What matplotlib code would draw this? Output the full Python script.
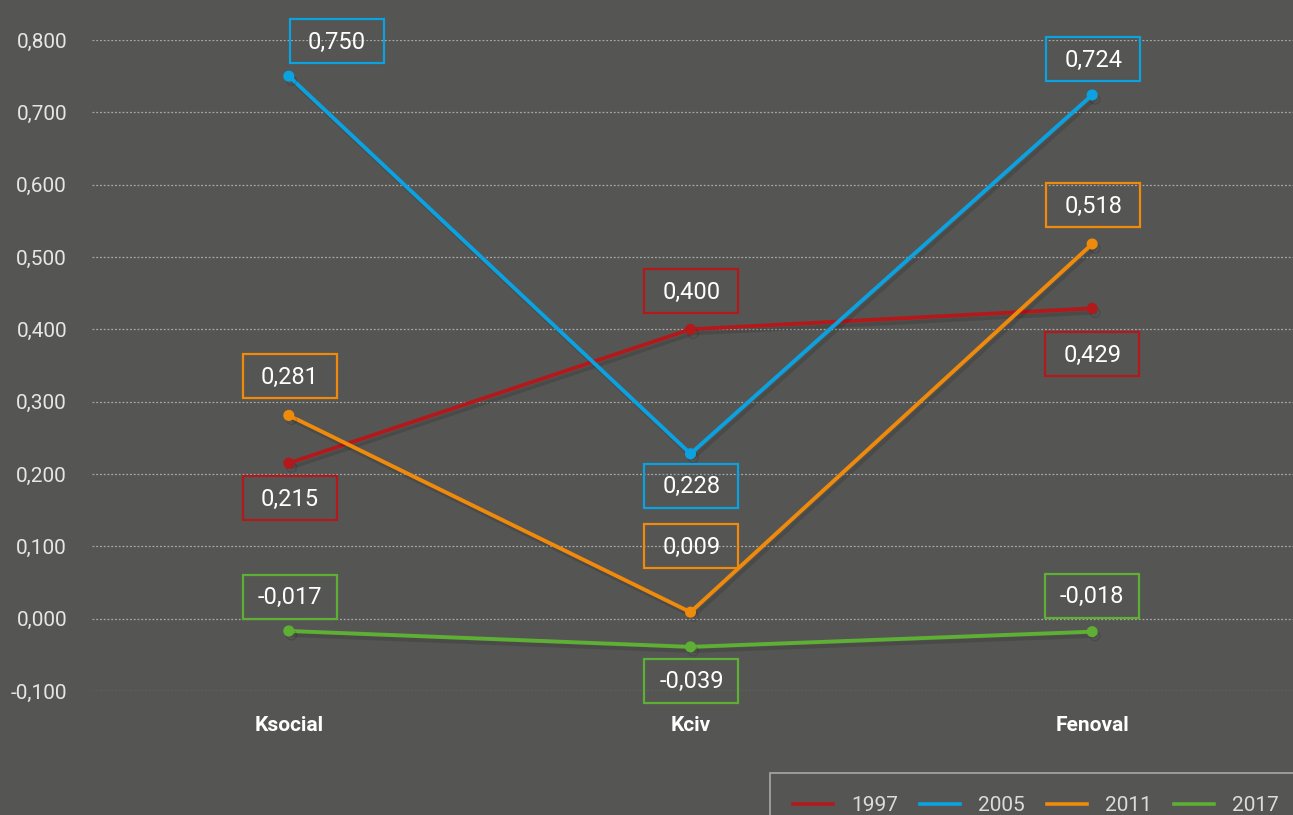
import matplotlib
matplotlib.use("Agg")
import matplotlib.pyplot as plt
import matplotlib.patheffects as pe
from matplotlib.patches import Rectangle
from matplotlib.transforms import IdentityTransform

categories = ["Ksocial", "Kciv", "Fenoval"]
series_names = ["1997", "2005", "2011", "2017"]
v1997 = [0.215, 0.400, 0.429]
v2005 = [0.750, 0.228, 0.724]
v2011 = [0.281, 0.009, 0.518]
v2017 = [-0.017, -0.039, -0.018]
yticks = [-0.1, 0.0, 0.1, 0.2, 0.3, 0.4, 0.5, 0.6, 0.7, 0.8]

colors = ["#B3191B", "#0BA2E2", "#F08A0B", "#5DB033"]
# label offsets in pixels (dx, dy up) for each series/category
label_offsets = [
    [(1, -35), (1, 38), (0, -46)],
    [(48, 35), (1, -32), (1, 36)],
    [(1, 39), (1, 66), (1, 39)],
    [(1, 34), (1, -34), (0, 36)],
]

BG = "#555553"
plt.rcParams['font.family'] = ['Roboto', 'DejaVu Sans']

fig = plt.figure(figsize=(12.93, 8.15), dpi=100, facecolor=BG)
ax = fig.add_axes([92/1293, 1-691/815, 1-92/1293, (691-40)/815])
ax.set_facecolor(BG)
ax.set_xlim(-0.49, 2.5)
ax.set_ylim(-0.1, 0.8)

for s in ax.spines.values():
    s.set_visible(False)
ax.set_yticks(yticks)
ax.set_yticklabels([f"{t:.3f}".replace(".", ",") for t in yticks], fontsize=15, color="#e6e6e6")
ax.tick_params(axis='y', length=0, pad=18)
ax.set_xticks(range(len(categories)))
ax.set_xticklabels(categories, fontsize=15, fontweight='bold', color="white")
ax.tick_params(axis='x', length=0, pad=18)
for t in yticks:
    ax.axhline(t, color="#a8a8a8", lw=0.9, ls=(0, (1.5, 1.5)), zorder=1)

all_vals = [v1997, v2005, v2011, v2017]
xs = list(range(len(categories)))
for name, vals, c in zip(series_names, all_vals, colors):
    ax.plot(xs, vals, color=c, lw=2.8, marker='o', ms=7, label=name, zorder=3,
            path_effects=[pe.SimpleLineShadow(offset=(2, -3), shadow_color='black', alpha=0.12), pe.Normal()])

fig.canvas.draw()
for vals, c, offs in zip(all_vals, colors, label_offsets):
    for x, v, (dx, dy) in zip(xs, vals, offs):
        px, py = ax.transData.transform((x, v))
        cx, cy = px + dx, py + dy
        rect = Rectangle((cx - 47, cy - 22), 94, 44, transform=IdentityTransform(),
                         facecolor='none', edgecolor=c, lw=1.6, clip_on=False, zorder=4)
        fig.add_artist(rect)
        ax.annotate(f"{v:.3f}".replace(".", ","), xy=(x, v), xytext=(dx, dy - 1),
                    textcoords='offset pixels', ha='center', va='center',
                    fontsize=17, color='white', zorder=5, annotation_clip=False)

leg = fig.legend(loc='upper left', bbox_to_anchor=(770/1293, 1-773/815), ncol=4,
                 fontsize=15, frameon=True, fancybox=False, handlelength=1.9,
                 handletextpad=0.9, columnspacing=1.05, borderpad=1.1, borderaxespad=0)
leg.get_frame().set_facecolor('none')
leg.get_frame().set_edgecolor('#bdbdbd')
leg.get_frame().set_linewidth(1.2)
for t in leg.get_texts():
    t.set_color('#dcdcdc')
for l in leg.get_lines():
    l.set_marker('None')
    l.set_linewidth(2.6)
    l.set_path_effects([])

fig.savefig("out.png", dpi=100, facecolor=BG)
